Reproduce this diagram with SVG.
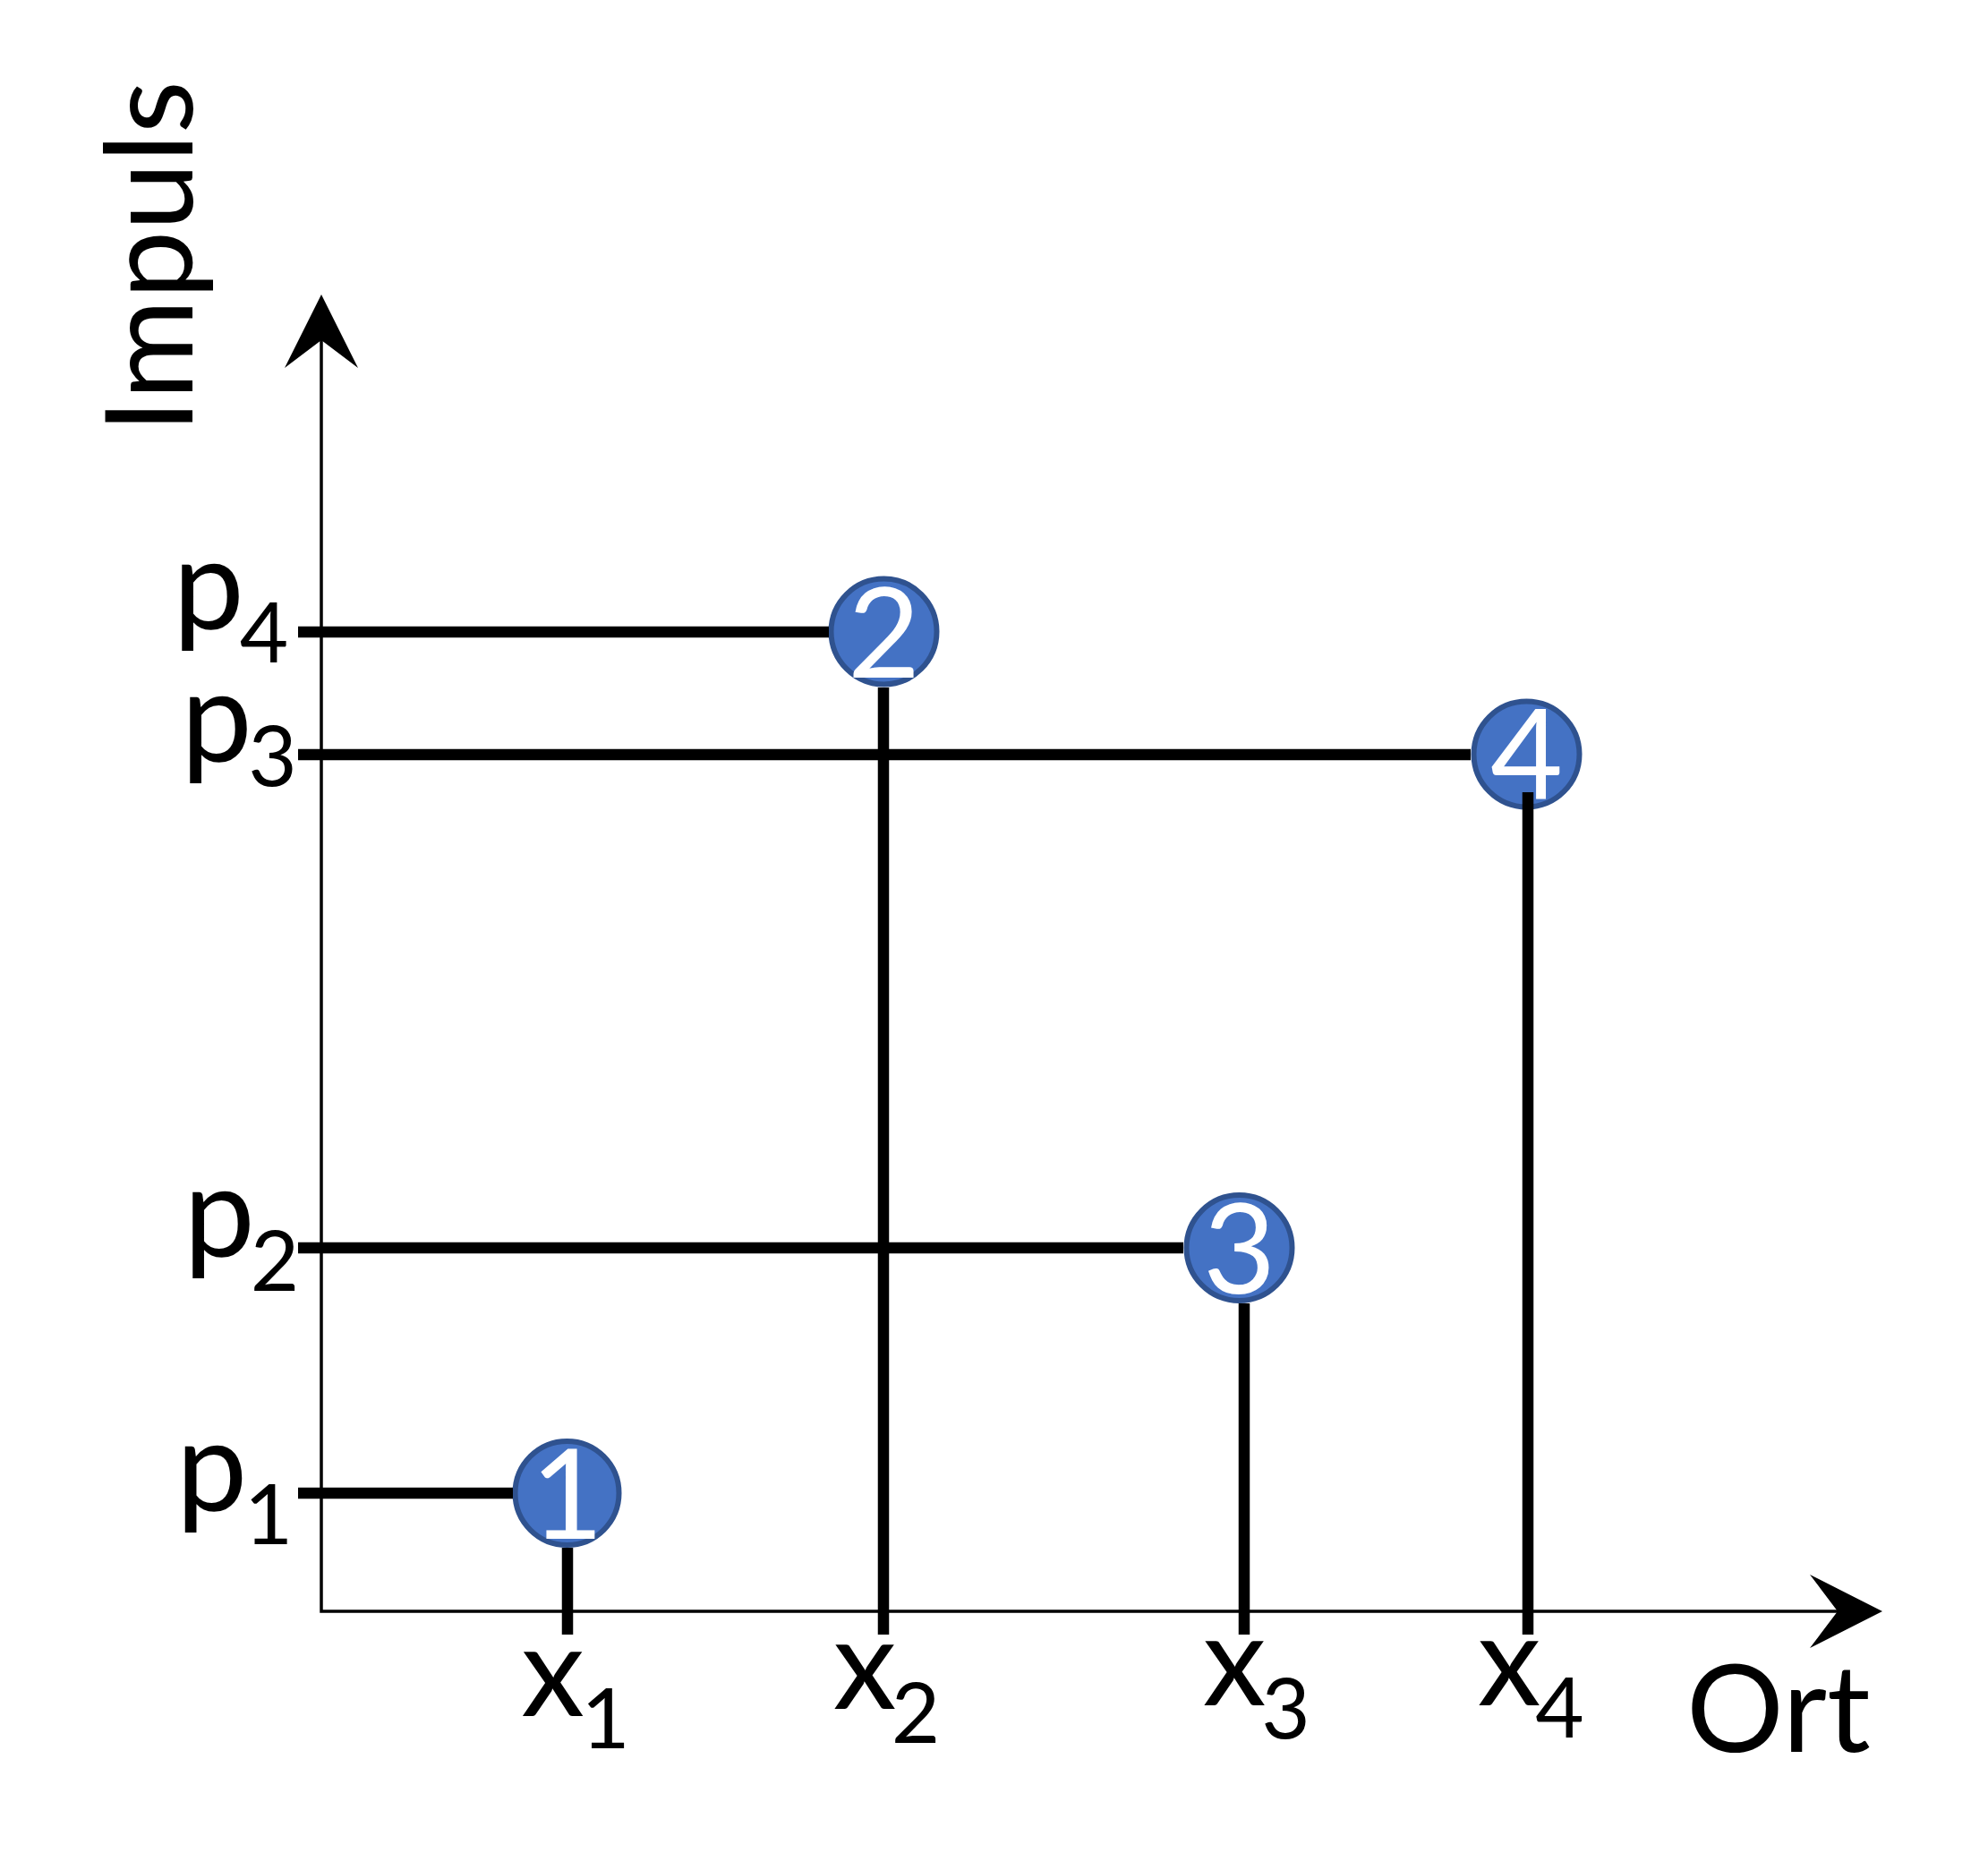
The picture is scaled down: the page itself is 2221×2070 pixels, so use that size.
<svg xmlns="http://www.w3.org/2000/svg" width="2221" height="2070" viewBox="0 0 2221 2070">
<style>
.axis{fill:none;stroke:#000;stroke-width:3.5;stroke-linejoin:miter}
.head{fill:#000;stroke:none}
.bar{fill:none;stroke:#000;stroke-width:12.5;stroke-linecap:butt}
.node circle{fill:#4472C4;stroke:#2F528F;stroke-width:6}
.node text{fill:#fff;font-family:Lato,"Open Sans",sans-serif;font-size:140px;text-anchor:middle}
.lbl{fill:#000;font-family:Lato,"Open Sans",sans-serif;text-anchor:middle}
.main{font-size:142px}
.sub{font-size:94px}
.title{fill:#000;font-family:Lato,"Open Sans",sans-serif;font-size:136px}
</style>
<rect width="2221" height="2070" fill="#fff"/>
<g id="axes">
<polyline class="axis" points="359,380 359,1800 2053,1800"/>
<polygon class="head" points="359,329 400,411 359,380 318,411"/>
<polygon class="head" points="2103,1800 2022,1759 2053,1800 2022,1841"/>
<text class="title" transform="translate(215,484) rotate(-90)" textLength="394" lengthAdjust="spacingAndGlyphs">Impuls</text>
<text class="title" x="1884" y="1957">Ort</text>
</g>
<g id="labels">
<text class="lbl"><tspan class="main" x="233" y="703">p</tspan><tspan class="sub" x="295" y="740">4</tspan></text>
<text class="lbl"><tspan class="main" x="242" y="851">p</tspan><tspan class="sub" x="304.5" y="878">3</tspan></text>
<text class="lbl"><tspan class="main" x="245" y="1404">p</tspan><tspan class="sub" x="307" y="1442">2</tspan></text>
<text class="lbl"><tspan class="main" x="236.5" y="1688">p</tspan><tspan class="sub" x="300" y="1725">1</tspan></text>
<text class="lbl"><tspan class="main" x="617.5" y="1917">x</tspan><tspan class="sub" x="676.5" y="1953">1</tspan></text>
<text class="lbl"><tspan class="main" x="966" y="1909">x</tspan><tspan class="sub" x="1023" y="1947">2</tspan></text>
<text class="lbl"><tspan class="main" x="1379" y="1905">x</tspan><tspan class="sub" x="1436.5" y="1942">3</tspan></text>
<text class="lbl"><tspan class="main" x="1686" y="1905">x</tspan><tspan class="sub" x="1742.5" y="1941">4</tspan></text>
</g>
<g id="node1" class="node"><circle cx="633.5" cy="1668" r="58"/><text x="633.5" y="1719">1</text></g>
<g id="node2" class="node"><circle cx="987.5" cy="705.5" r="59"/><text x="987.5" y="757">2</text></g>
<g id="node3" class="node"><circle cx="1384.5" cy="1394" r="59"/><text x="1384.5" y="1445">3</text></g>
<g id="node4" class="node"><circle cx="1705.5" cy="842.5" r="59"/><text x="1705.5" y="892">4</text></g>
<g id="connectors">
<line class="bar" x1="333" y1="706" x2="926" y2="706"/>
<line class="bar" x1="333" y1="843" x2="1643" y2="843"/>
<line class="bar" x1="333" y1="1394" x2="1322" y2="1394"/>
<line class="bar" x1="333" y1="1668" x2="573" y2="1668"/>
<line class="bar" x1="634" y1="1729" x2="634" y2="1826"/>
<line class="bar" x1="987" y1="768" x2="987" y2="1826"/>
<line class="bar" x1="1390" y1="1456" x2="1390" y2="1826"/>
<line class="bar" x1="1707" y1="885" x2="1707" y2="1826"/>
</g>
</svg>
